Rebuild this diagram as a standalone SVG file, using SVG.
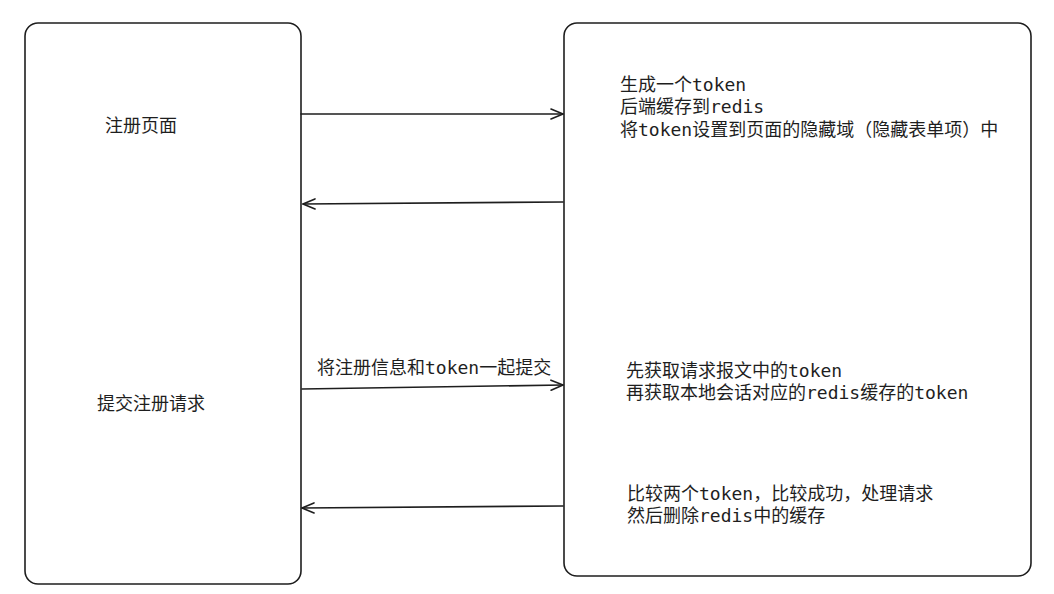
<svg xmlns="http://www.w3.org/2000/svg" width="1054" height="594" viewBox="0 0 1054 594">
<style>
.box{fill:#fff;stroke:#1e1e1e;stroke-width:1.6}
.t{font-family:'DejaVu Sans Mono','Noto Sans CJK SC',monospace;font-size:18px;fill:#1e1e1e}
.c{fill:none;stroke:#1e1e1e;stroke-width:1.6;stroke-linecap:round}
</style>
<defs>
<marker id="ah" viewBox="0 0 14 12" refX="13" refY="6" markerWidth="14" markerHeight="12" markerUnits="userSpaceOnUse" orient="auto">
<path d="M1,1 L13,6 L1,11" fill="none" stroke="#1e1e1e" stroke-width="1.6" stroke-linecap="round" stroke-linejoin="round"/>
</marker>
</defs>
<rect width="1054" height="594" fill="#fff"/>
<g id="left">
<rect class="box" x="25" y="23" width="276" height="561" rx="13"/>
<text class="t" x="105" y="132">注册页面</text>
<text class="t" x="97" y="410">提交注册请求</text>
</g>
<g id="right">
<rect class="box" x="564" y="23" width="467" height="553" rx="13"/>
<text class="t" x="620" y="91">生成一个token</text>
<text class="t" x="620" y="113">后端缓存到redis</text>
<text class="t" x="620" y="136">将token设置到页面的隐藏域（隐藏表单项）中</text>
<text class="t" x="626" y="377">先获取请求报文中的token</text>
<text class="t" x="626" y="399">再获取本地会话对应的redis缓存的token</text>
<text class="t" x="627" y="500">比较两个token，比较成功，处理请求</text>
<text class="t" x="627" y="522">然后删除redis中的缓存</text>
</g>
<g id="connectors">
<path class="c" d="M301,114 L563,114" marker-end="url(#ah)"/>
<path class="c" d="M563,202 L303,204" marker-end="url(#ah)"/>
<path class="c" d="M302,389 L563,385" marker-end="url(#ah)"/>
<path class="c" d="M563,506 L302,508" marker-end="url(#ah)"/>
<text class="t" x="317" y="374">将注册信息和token一起提交</text>
</g>
</svg>
